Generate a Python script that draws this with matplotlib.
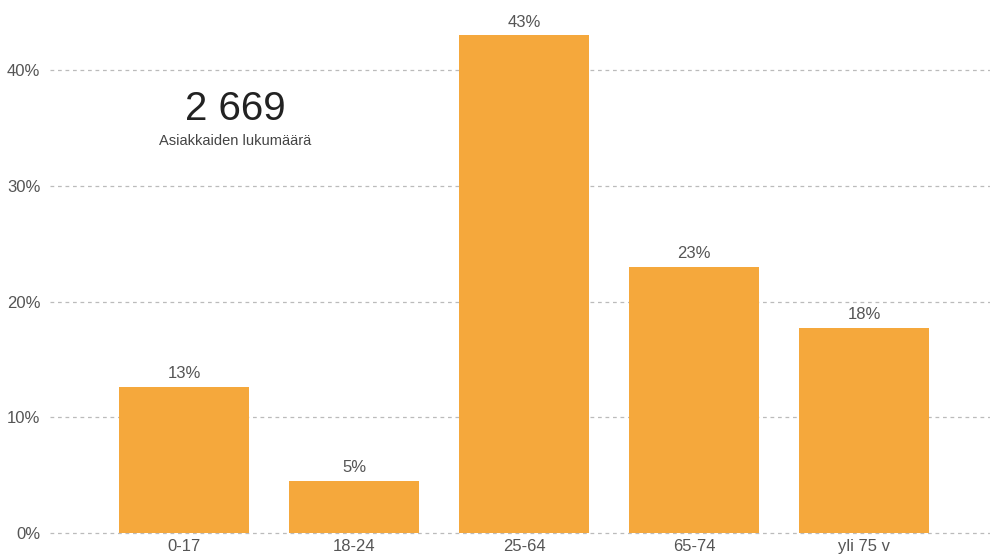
import matplotlib
matplotlib.use("Agg")
import matplotlib.pyplot as plt
from matplotlib.ticker import FuncFormatter

plt.rcParams['font.family'] = ['Liberation Sans', 'DejaVu Sans']

# data
categories = ['0-17', '18-24', '25-64', '65-74', 'yli 75 v']
shares = [12.6, 4.5, 43.0, 23.0, 17.7]
labels = ['13%', '5%', '43%', '23%', '18%']
total_label = '2 669'
total_caption = 'Asiakkaiden lukumäärä'

fig = plt.figure(figsize=(9.9, 5.57), dpi=100)
ax = fig.add_axes([0.0505, 0.0377, 0.9495, 0.9623])

x = range(len(categories))
bars = ax.bar(x, shares, width=0.765, color='#F5A83C', zorder=2)

for b, lab in zip(bars, labels):
    ax.text(b.get_x() + b.get_width() / 2, b.get_height() + 0.5, lab,
            ha='center', va='bottom', fontsize=12, color='#555555')

ax.set_xlim(-0.79, 4.74)
ax.set_ylim(-0.26, 46.05)
ax.set_yticks([0, 10, 20, 30, 40])
ax.yaxis.set_major_formatter(FuncFormatter(lambda v, p: f'{v:.0f}%'))
ax.set_xticks(list(x))
ax.set_xticklabels(categories)
ax.tick_params(axis='both', length=0, labelsize=12, labelcolor='#555555')
ax.tick_params(axis='y', pad=7)
ax.tick_params(axis='x', pad=2)

ax.grid(axis='y', linestyle=(0, (3, 3)), color='#bbbbbb', linewidth=0.9, zorder=0)
for s in ax.spines.values():
    s.set_visible(False)

ax.text(0.3, 36.6, total_label, ha='center', va='center', fontsize=29, color='#222222')
ax.text(0.3, 33.9, total_caption, ha='center', va='center', fontsize=10.5, color='#444444')

fig.savefig('out.png', dpi=100)
